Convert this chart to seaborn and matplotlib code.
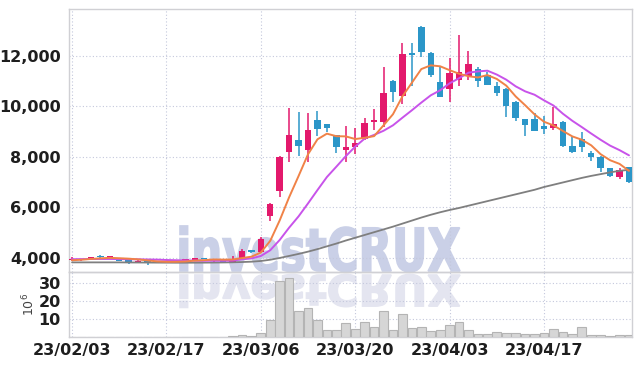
import numpy as np
import pandas as pd
import matplotlib
matplotlib.use("Agg")
import matplotlib.pyplot as plt
import seaborn as sns
from matplotlib import font_manager as fm
from matplotlib.textpath import TextPath
from matplotlib.patches import PathPatch
from matplotlib.font_manager import FontProperties
from matplotlib.transforms import Affine2D, IdentityTransform
from matplotlib.ticker import FuncFormatter

# ---------------- data ----------------
dates = ["23/02/03", "23/02/06", "23/02/07", "23/02/08", "23/02/09", "23/02/10",
         "23/02/13", "23/02/14", "23/02/15", "23/02/16", "23/02/17",
         "23/02/20", "23/02/21", "23/02/22", "23/02/23", "23/02/24",
         "23/02/27", "23/02/28", "23/03/02", "23/03/03", "23/03/06",
         "23/03/07", "23/03/08", "23/03/09", "23/03/10",
         "23/03/13", "23/03/14", "23/03/15", "23/03/16", "23/03/17", "23/03/20",
         "23/03/21", "23/03/22", "23/03/23", "23/03/24",
         "23/03/27", "23/03/28", "23/03/29", "23/03/30", "23/03/31", "23/04/03",
         "23/04/04", "23/04/05", "23/04/06", "23/04/07",
         "23/04/10", "23/04/11", "23/04/12", "23/04/13", "23/04/14", "23/04/17",
         "23/04/18", "23/04/19", "23/04/20", "23/04/21",
         "23/04/24", "23/04/25", "23/04/26", "23/04/27", "23/04/28"]

opens = [3900, 3900, 3950, 4060, 4000, 3960, 3900, 3830, 3870, 3820,
         3840, 3800, 3840, 3910, 3990, 3860, 3870, 3800, 3980, 4300,
         4210, 5660, 6630, 8200, 8660, 8270, 9450, 9290, 8860, 8270,
         8370, 8700, 9380, 9360, 11010, 10390, 12120, 13150, 12120, 10970,
         10670, 11050, 11180, 11470, 11240, 10780, 10700, 10150, 9480, 9480,
         9230, 9120, 9390, 8440, 8700, 8130, 8000, 7550, 7180, 7600]
highs = [4040, 3960, 4040, 4090, 4060, 3980, 3910, 3890, 3880, 3860,
         3850, 3850, 3960, 4000, 4000, 3960, 3890, 4070, 4350, 4320,
         4830, 6150, 8010, 9940, 9760, 9720, 9820, 9300, 8870, 9230,
         9140, 9520, 9890, 11540, 11020, 12490, 12490, 13160, 12130, 11540,
         11910, 12830, 12170, 11540, 11340, 10940, 10710, 10220, 9490, 9720,
         9620, 9950, 9400, 8790, 8960, 8240, 8010, 7560, 7550, 7610]
lows = [3860, 3880, 3930, 4000, 3990, 3870, 3750, 3810, 3720, 3800,
        3790, 3780, 3820, 3890, 3930, 3840, 3790, 3780, 3960, 4200,
        4190, 5470, 6390, 7780, 8040, 7780, 8830, 8990, 8150, 7780,
        8110, 8670, 9060, 9160, 10150, 10090, 10810, 11930, 11140, 10370,
        10150, 10810, 11050, 10770, 10840, 10400, 9560, 9430, 8830, 9020,
        8900, 9060, 8400, 8160, 8200, 7840, 7380, 7210, 7120, 6970]
closes = [3950, 3930, 4020, 4020, 4050, 3880, 3840, 3880, 3820, 3850,
          3800, 3840, 3940, 3990, 3940, 3940, 3810, 3960, 4280, 4210,
          4760, 6140, 8000, 8870, 8410, 9060, 9100, 9120, 8370, 8370,
          8540, 9340, 9450, 10510, 10570, 12070, 12040, 12160, 11250, 10380,
          11300, 11340, 11660, 11010, 10850, 10530, 10020, 9520, 9270, 9030,
          9080, 9300, 8410, 8200, 8370, 7970, 7540, 7220, 7480, 6980]

ma5 = [3900, 3920, 3950, 3975, 3994, 3980, 3962, 3934, 3894, 3854,
       3838, 3838, 3850, 3884, 3902, 3930, 3924, 3928, 3986, 4040,
       4204, 4670, 5478, 6396, 7236, 8096, 8688, 8912, 8812, 8804,
       8700, 8748, 8814, 9242, 9682, 10388, 10928, 11470, 11618, 11580,
       11426, 11286, 11186, 11138, 11232, 11078, 10814, 10386, 10038, 9674,
       9384, 9240, 9018, 8804, 8672, 8450, 8098, 7860, 7716, 7438]
ma10 = [3940, 3945, 3950, 3950, 3950, 3945, 3940, 3935, 3930, 3924,
        3909, 3900, 3892, 3889, 3878, 3884, 3881, 3889, 3935, 3971,
        4067, 4297, 4703, 5191, 5638, 6150, 6679, 7195, 7604, 8020,
        8398, 8718, 8863, 9027, 9243, 9544, 9838, 10142, 10430, 10631,
        10907, 11107, 11328, 11378, 11406, 11252, 11050, 10786, 10588, 10453,
        10231, 10027, 9702, 9421, 9173, 8917, 8669, 8439, 8260, 8055]
ma60 = [3815, 3815, 3815, 3815, 3815, 3815, 3812, 3810, 3808, 3806,
        3804, 3802, 3802, 3803, 3805, 3808, 3812, 3818, 3828, 3842,
        3870, 3920, 3990, 4070, 4150, 4240, 4340, 4450, 4560, 4680,
        4790, 4900, 5010, 5120, 5230, 5350, 5470, 5590, 5700, 5800,
        5890, 5970, 6060, 6150, 6240, 6330, 6420, 6510, 6600, 6690,
        6800, 6890, 6980, 7070, 7160, 7240, 7310, 7380, 7440, 7480]

volume = [0.2, 0.2, 0.2, 0.2, 0.2, 0.2, 0.2, 0.2, 0.2, 0.2,
          0.2, 0.2, 0.2, 0.2, 0.2, 0.2, 0.2, 0.5, 1.0, 0.3,
          2.0, 9.2, 31.0, 32.4, 14.4, 15.8, 9.2, 3.6, 3.6, 7.9,
          4.2, 8.5, 5.3, 14.2, 3.6, 12.6, 4.8, 5.3, 3.1, 3.8,
          6.8, 8.5, 4.1, 1.5, 1.5, 2.6, 2.1, 2.1, 1.5, 1.5,
          2.1, 4.2, 2.5, 1.5, 5.3, 0.9, 0.9, 0.5, 0.9, 0.9]

price_ticks = [4000, 6000, 8000, 10000, 12000]
vol_ticks = [10, 20, 30]
date_tick_pos = [0, 10, 20, 30, 40, 50]

# ---------------- style ----------------
sns.set_theme(style="white")
names = {f.name for f in fm.fontManager.ttflist}
tick_font = "Liberation Sans Narrow" if "Liberation Sans Narrow" in names else "DejaVu Sans"
plt.rcParams["font.family"] = [tick_font, "DejaVu Sans"]

UP = "#e3196c"
DOWN = "#2b96c8"
GRID = "#c4c8dc"
SPINE = "#d0d0d4"
TXT = "#1e1e1e"

W, H = 642, 366
fig = plt.figure(figsize=(W / 100, H / 100), dpi=100)
fig.patch.set_facecolor("white")

L, R, T, MID, B = 69, 632, 9, 272, 337
ax = fig.add_axes([L / W, 1 - MID / H, (R - L) / W, (MID - T) / H])
axv = fig.add_axes([L / W, 1 - B / H, (R - L) / W, (B - MID) / H], sharex=ax)
for a in (ax, axv):
    a.set_facecolor("none")

df = pd.DataFrame({"idx": np.arange(len(dates)), "date": dates, "open": opens,
                   "high": highs, "low": lows, "close": closes,
                   "ma5": ma5, "ma10": ma10, "ma60": ma60, "volume": volume})
df["up"] = df["close"] >= df["open"]
df["col"] = np.where(df["up"], UP, DOWN)
df["bot"] = df[["open", "close"]].min(axis=1)
df["hgt"] = (df["close"] - df["open"]).abs().clip(lower=25)

# watermark (behind axes)
fp = FontProperties(family="DejaVu Sans", weight="bold")
tp = TextPath((0, 0), "investCRUX", size=1, prop=fp)
cap = TextPath((0, 0), "C", size=1, prop=fp).get_extents().y1
ext = tp.get_extents()
x0, x1 = 180, 460
sx = (x1 - x0) / ext.width
sy = 44 / cap
base = H - 271
tr_up = Affine2D().translate(-ext.x0, 0).scale(sx, sy).translate(x0, base)
tr_dn = Affine2D().translate(-ext.x0, 0).scale(sx, -sy * 0.72).translate(x0, base - 4)
p1 = PathPatch(tr_up.transform_path(tp), facecolor="#cad0e7", edgecolor="#cad0e7",
               linewidth=1.2, transform=IdentityTransform(), zorder=-2)
p2 = PathPatch(tr_dn.transform_path(tp), facecolor="#e4e5f0", edgecolor="#e4e5f0",
               linewidth=1.2, transform=IdentityTransform(), zorder=-2)
fig.add_artist(p1)
fig.add_artist(p2)

# candles
ax.vlines(df["idx"], df["low"], df["high"], colors=df["col"], linewidth=1.1, zorder=3)
ax.bar(df["idx"], df["hgt"], bottom=df["bot"], width=0.68, color=df["col"],
       linewidth=0, zorder=4)

# moving averages
sns.lineplot(data=df, x="idx", y="ma60", ax=ax, color="#7f7f7f", linewidth=1.3, zorder=5)
sns.lineplot(data=df, x="idx", y="ma10", ax=ax, color="#c853ea", linewidth=1.4, zorder=5)
sns.lineplot(data=df, x="idx", y="ma5", ax=ax, color="#f08247", linewidth=1.4, zorder=6)

# volume
sns.barplot(data=df, x="idx", y="volume", ax=axv, native_scale=True, width=0.92,
            color="#d6d6d6", edgecolor="#b4b4b4", linewidth=0.8, saturation=1,
            zorder=3)

# axes formatting
ax.set_xlim(-0.32, 59.32)
ax.set_ylim(3434, 13849)
axv.set_ylim(0, 35.9)
ax.set_yticks(price_ticks)
ax.yaxis.set_major_formatter(FuncFormatter(lambda v, p: f"{int(v):,}"))
axv.set_yticks(vol_ticks)
axv.set_xticks(date_tick_pos)
axv.set_xticklabels([dates[i] for i in date_tick_pos])
ax.tick_params(axis="x", labelbottom=False, length=0)
for a in (ax, axv):
    a.set_xlabel("")
    a.set_ylabel("")
    a.tick_params(axis="both", length=0, pad=6, labelsize=11.5, labelcolor=TXT)
    for lab in a.get_xticklabels() + a.get_yticklabels():
        lab.set_fontweight("bold")
    a.grid(True, axis="both", color=GRID, linestyle=(0, (1, 2)), linewidth=0.8)
    a.set_axisbelow(True)
    for s in a.spines.values():
        s.set_color(SPINE)
        s.set_linewidth(1.0)
axv.tick_params(axis="x", pad=4)

axv.set_ylabel(r"$10^{6}$", fontsize=9, color="#444444", family="DejaVu Sans")
axv.yaxis.set_label_coords(-0.057, 0.5)

fig.savefig("out.png", dpi=100, facecolor="white")
